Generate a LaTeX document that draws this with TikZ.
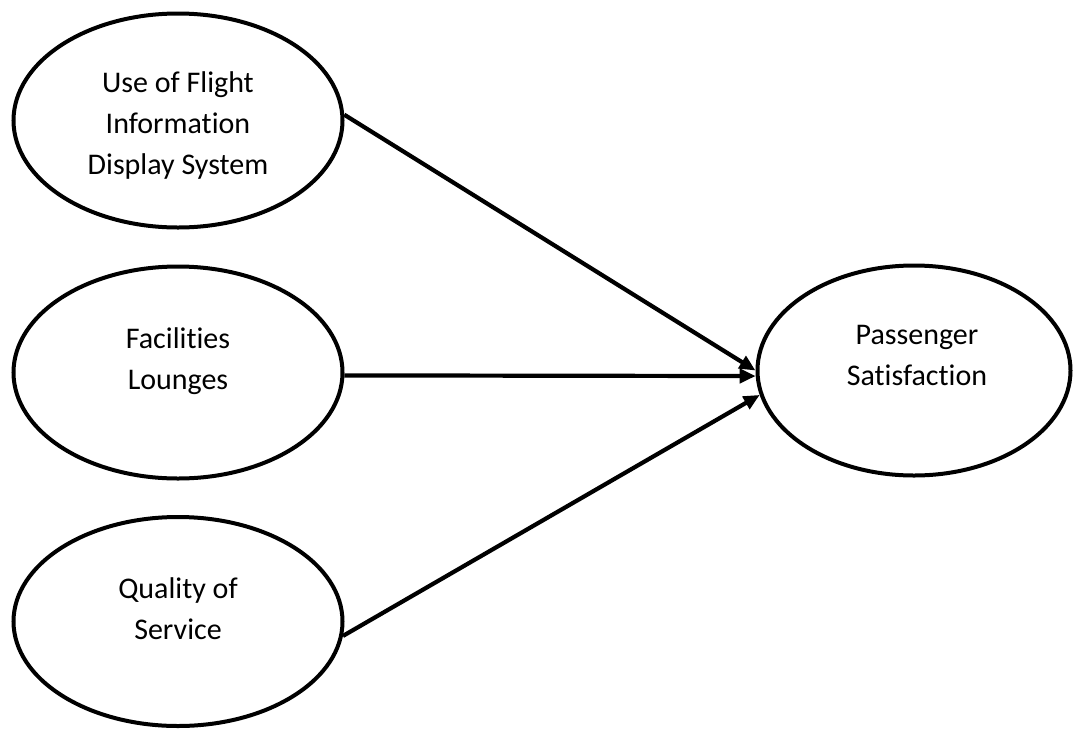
\documentclass[tikz,border=0pt]{standalone}
\usepackage{fontspec}
\setmainfont{Carlito}[Ligatures=NoCommon]
\usepackage{tikz}
\usetikzlibrary{shapes.geometric, arrows.meta}
\tikzstyle{construct} = [ellipse, draw=black, line width=4pt, minimum width=329pt, minimum height=214pt]
\tikzstyle{caption} = [align=center, font=\fontsize{30}{41}\selectfont]
\tikzstyle{arrow} = [line width=4.2pt, -{Triangle[length=16pt,width=14pt]}]

\begin{document}
\begin{tikzpicture}[x=1pt, y=-1pt, node distance=250pt]
        \useasboundingbox (0,0) rectangle (1074,729);
        \node (fids) [construct] at (178,120.5) {};
        \node (fac) [construct, below of=fids, yshift=-2pt, minimum height=212pt] {};
        \node (qos) [construct, below of=fac, yshift=1pt, minimum height=209pt] {};
        \node (pas) [construct, right of=fac, xshift=486pt, yshift=2pt, minimum width=313pt, minimum height=210pt] {};
        \node (fidstext) [caption] at ([yshift=-4.5pt]fids.center) {Use of Flight\\Information\\Display System};
        \node (factext) [caption] at ([yshift=11.5pt]fac.center) {Facilities\\Lounges};
        \node (qostext) [caption] at ([yshift=12.5pt]qos.center) {Quality of\\Service};
        \node (pastext) [caption] at ([xshift=3pt, yshift=15pt]pas.center) {Passenger\\Satisfaction};
        \draw [arrow] (fids.2) -- (pas.180);
        \draw [arrow] (fac.359) -- (pas.182);
        \draw [arrow] (qos.355) -- (pas.189);
    \end{tikzpicture}
\end{document}
